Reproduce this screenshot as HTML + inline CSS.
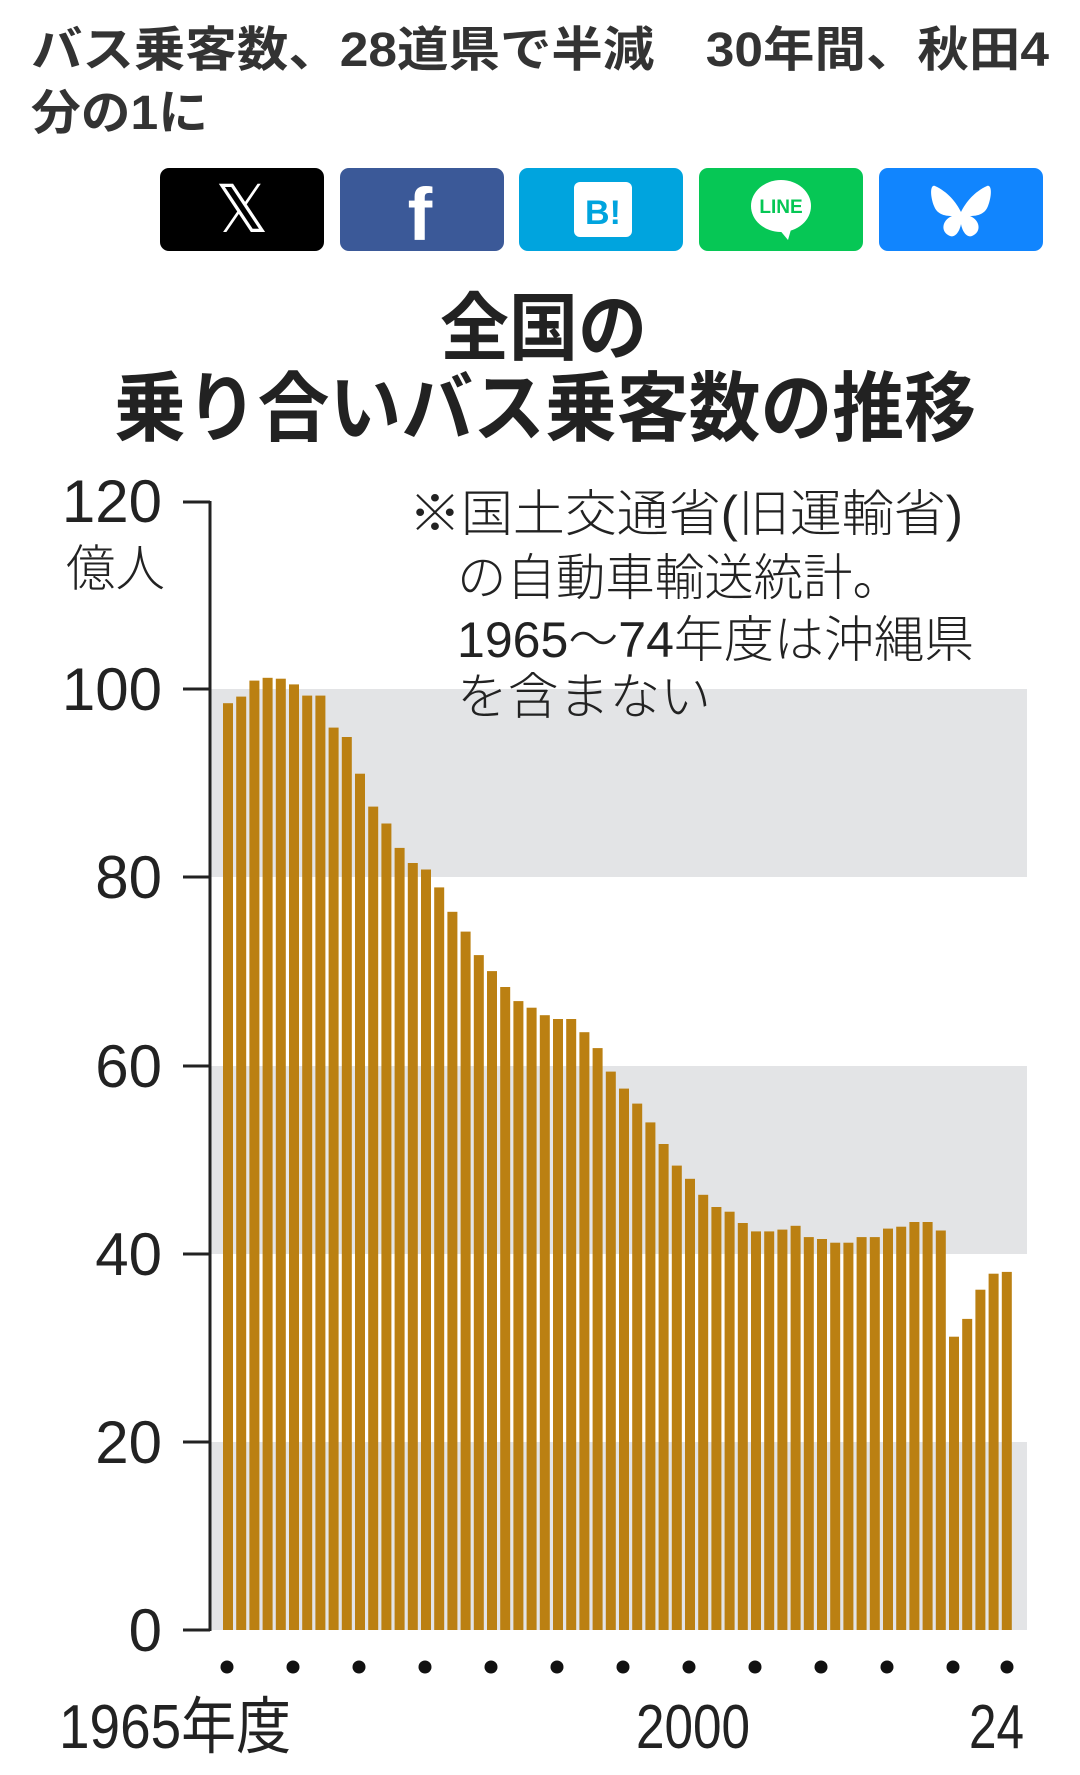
<!DOCTYPE html>
<html><head><meta charset="utf-8"><style>
html,body{margin:0;padding:0;background:#fff;}
svg{display:block;}
</style></head><body>
<svg width="1080" height="1775" viewBox="0 0 1080 1775" xmlns="http://www.w3.org/2000/svg">
<g font-family="'Liberation Sans','Noto Sans CJK JP',sans-serif" fill="#333">
<text x="31" y="66" font-size="48" font-weight="bold" textLength="1018" lengthAdjust="spacingAndGlyphs">バス乗客数、28道県で半減　30年間、秋田4</text>
<text x="31" y="129" font-size="48" font-weight="bold" textLength="177" lengthAdjust="spacingAndGlyphs">分の1に</text>
</g>
<rect x="160" y="168" width="164" height="83" rx="9" fill="#000"/>
<text x="242" y="232" font-family="'DejaVu Sans',sans-serif" font-size="66" fill="#fff" text-anchor="middle">𝕏</text>
<rect x="340" y="168" width="164" height="83" rx="9" fill="#3b5998"/>
<text x="420" y="240" font-family="'Liberation Sans',sans-serif" font-weight="bold" font-size="74" fill="#fff" text-anchor="middle">f</text>
<rect x="519" y="168" width="164" height="83" rx="9" fill="#00a4de"/>
<rect x="574" y="182" width="58" height="55" rx="6" fill="#fff"/>
<text x="603" y="224" font-family="'Liberation Sans',sans-serif" font-weight="bold" font-size="34" fill="#00a4de" text-anchor="middle">B!</text>
<rect x="699" y="168" width="164" height="83" rx="9" fill="#06c755"/>
<ellipse cx="781" cy="206" rx="30" ry="26" fill="#fff"/>
<path d="M778 228 L788 240 L792 226 Z" fill="#fff"/>
<text x="781" y="213" font-family="'Liberation Sans',sans-serif" font-weight="bold" font-size="19" fill="#06c755" text-anchor="middle">LINE</text>
<rect x="879" y="168" width="164" height="83" rx="9" fill="#1185fe"/>
<path d="M935 186 C948 192 956 202 961 212 C966 202 974 192 987 186 C992 184 992 196 988 206 C985 214 978 216 970 216 C980 220 982 232 972 236 C966 238 962 230 961 224 C960 230 956 238 950 236 C940 232 942 220 952 216 C944 216 937 214 934 206 C930 196 930 184 935 186 Z" fill="#fff"/>
<g font-family="'Liberation Sans','Noto Sans CJK JP',sans-serif" font-weight="bold" fill="#222">
<text x="440" y="354" font-size="74" textLength="207" lengthAdjust="spacingAndGlyphs">全国の</text>
<text x="114" y="435" font-size="76" textLength="862" lengthAdjust="spacingAndGlyphs">乗り合いバス乗客数の推移</text>
</g>
<g fill="#e3e4e6">
<rect x="211" y="689" width="816" height="188"/>
<rect x="211" y="1066" width="816" height="188"/>
<rect x="211" y="1442" width="816" height="188"/>
</g>
<g font-family="'Liberation Sans','Noto Sans CJK JP',sans-serif" font-weight="300" fill="#222" font-size="50">
<text x="409" y="531" textLength="554" lengthAdjust="spacingAndGlyphs">※国土交通省(旧運輸省)</text>
<text x="457" y="595" textLength="445" lengthAdjust="spacingAndGlyphs">の自動車輸送統計。</text>
<text x="457" y="657" textLength="517" lengthAdjust="spacingAndGlyphs">1965～74年度は沖縄県</text>
<text x="457" y="714" textLength="254" lengthAdjust="spacingAndGlyphs">を含まない</text>
</g>
<g fill="#bb8012">
<rect x="223" y="703.2" width="10" height="926.8"/>
<rect x="236.2" y="696.6" width="10" height="933.4"/>
<rect x="249.4" y="680.6" width="10" height="949.4"/>
<rect x="262.6" y="677.8" width="10" height="952.2"/>
<rect x="275.8" y="678.7" width="10" height="951.3"/>
<rect x="289" y="684.4" width="10" height="945.6"/>
<rect x="302.2" y="695.6" width="10" height="934.4"/>
<rect x="315.4" y="695.6" width="10" height="934.4"/>
<rect x="328.6" y="727.6" width="10" height="902.4"/>
<rect x="341.8" y="737" width="10" height="893"/>
<rect x="355" y="773.7" width="10" height="856.3"/>
<rect x="368.2" y="806.6" width="10" height="823.4"/>
<rect x="381.4" y="823.5" width="10" height="806.5"/>
<rect x="394.6" y="847.9" width="10" height="782.1"/>
<rect x="407.8" y="863" width="10" height="767"/>
<rect x="421" y="869.5" width="10" height="760.5"/>
<rect x="434.2" y="887.4" width="10" height="742.6"/>
<rect x="447.4" y="911.8" width="10" height="718.2"/>
<rect x="460.6" y="931.6" width="10" height="698.4"/>
<rect x="473.8" y="955.1" width="10" height="674.9"/>
<rect x="487" y="971.1" width="10" height="658.9"/>
<rect x="500.2" y="987" width="10" height="643"/>
<rect x="513.4" y="1001.1" width="10" height="628.9"/>
<rect x="526.6" y="1007.7" width="10" height="622.3"/>
<rect x="539.8" y="1015.2" width="10" height="614.8"/>
<rect x="553" y="1019" width="10" height="611"/>
<rect x="566.2" y="1019" width="10" height="611"/>
<rect x="579.4" y="1032.2" width="10" height="597.8"/>
<rect x="592.6" y="1048.1" width="10" height="581.9"/>
<rect x="605.8" y="1071.6" width="10" height="558.4"/>
<rect x="619" y="1088.6" width="10" height="541.4"/>
<rect x="632.2" y="1103.6" width="10" height="526.4"/>
<rect x="645.4" y="1122.4" width="10" height="507.6"/>
<rect x="658.6" y="1144" width="10" height="486"/>
<rect x="671.8" y="1165.6" width="10" height="464.4"/>
<rect x="685" y="1178.8" width="10" height="451.2"/>
<rect x="698.2" y="1194.8" width="10" height="435.2"/>
<rect x="711.4" y="1207" width="10" height="423"/>
<rect x="724.6" y="1211.7" width="10" height="418.3"/>
<rect x="737.8" y="1223" width="10" height="407"/>
<rect x="751" y="1231.4" width="10" height="398.6"/>
<rect x="764.2" y="1231.4" width="10" height="398.6"/>
<rect x="777.4" y="1229.6" width="10" height="400.4"/>
<rect x="790.6" y="1225.8" width="10" height="404.2"/>
<rect x="803.8" y="1237.1" width="10" height="392.9"/>
<rect x="817" y="1239" width="10" height="391"/>
<rect x="830.2" y="1242.7" width="10" height="387.3"/>
<rect x="843.4" y="1242.7" width="10" height="387.3"/>
<rect x="856.6" y="1237.1" width="10" height="392.9"/>
<rect x="869.8" y="1237.1" width="10" height="392.9"/>
<rect x="883" y="1228.6" width="10" height="401.4"/>
<rect x="896.2" y="1226.7" width="10" height="403.3"/>
<rect x="909.4" y="1222" width="10" height="408"/>
<rect x="922.6" y="1222" width="10" height="408"/>
<rect x="935.8" y="1230.5" width="10" height="399.5"/>
<rect x="949" y="1336.7" width="10" height="293.3"/>
<rect x="962.2" y="1318.9" width="10" height="311.1"/>
<rect x="975.4" y="1289.7" width="10" height="340.3"/>
<rect x="988.6" y="1273.7" width="10" height="356.3"/>
<rect x="1001.8" y="1271.9" width="10" height="358.1"/>
</g>
<g stroke="#222" stroke-width="3">
<line x1="210" y1="501" x2="210" y2="1631"/>
<line x1="183" y1="502" x2="210" y2="502"/>
<line x1="183" y1="689" x2="210" y2="689"/>
<line x1="183" y1="877" x2="210" y2="877"/>
<line x1="183" y1="1066" x2="210" y2="1066"/>
<line x1="183" y1="1254" x2="210" y2="1254"/>
<line x1="183" y1="1442" x2="210" y2="1442"/>
<line x1="183" y1="1630" x2="210" y2="1630"/>
</g>
<g font-family="'Liberation Sans',sans-serif" font-size="60" fill="#222" text-anchor="end">
<text x="162" y="522">120</text>
<text x="162" y="710">100</text>
<text x="162" y="898">80</text>
<text x="162" y="1087">60</text>
<text x="162" y="1275">40</text>
<text x="162" y="1463">20</text>
<text x="162" y="1651">0</text>
</g>
<text x="66" y="586" font-family="'Liberation Sans','Noto Sans CJK JP',sans-serif" font-weight="300" font-size="50" fill="#222" textLength="99" lengthAdjust="spacingAndGlyphs">億人</text>
<g fill="#111">
<circle cx="227" cy="1667" r="6.5"/><circle cx="293" cy="1667" r="6.5"/><circle cx="359" cy="1667" r="6.5"/><circle cx="425" cy="1667" r="6.5"/><circle cx="491" cy="1667" r="6.5"/><circle cx="557" cy="1667" r="6.5"/><circle cx="623" cy="1667" r="6.5"/><circle cx="689" cy="1667" r="6.5"/><circle cx="755" cy="1667" r="6.5"/><circle cx="821" cy="1667" r="6.5"/><circle cx="887" cy="1667" r="6.5"/><circle cx="953" cy="1667" r="6.5"/><circle cx="1007" cy="1667" r="6.5"/>
</g>
<g font-family="'Liberation Sans','Noto Sans CJK JP',sans-serif" font-size="62" fill="#222">
<text x="59" y="1748" textLength="232" lengthAdjust="spacingAndGlyphs">1965年度</text>
<text x="636" y="1748" textLength="114" lengthAdjust="spacingAndGlyphs">2000</text>
<text x="969" y="1748" textLength="55" lengthAdjust="spacingAndGlyphs">24</text>
</g>
</svg>
</body></html>
